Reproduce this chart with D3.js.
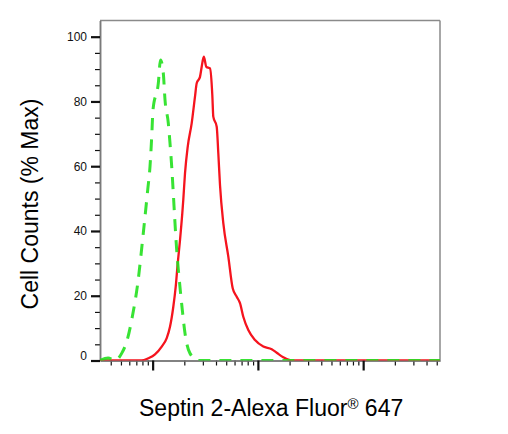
<!DOCTYPE html>
<html><head><meta charset="utf-8">
<script src="https://cdn.jsdelivr.net/npm/d3@7"></script>
<style>body{margin:0;background:#fff}svg{display:block}</style>
</head><body>
<svg id="c" width="508" height="434"></svg>
<script>
// Isotype control (green dashed)
const greenX = [3.16, 3.77, 4.39, 5.08, 5.67, 6.41, 7.22, 8.15, 8.98, 9.44, 9.80, 10.08, 11.32, 11.88, 12.63, 13.11, 14.09, 14.62, 15.18, 15.72, 16.31, 16.93, 17.80, 19.14, 20.30, 22.65, 27.16, 100, 1000, 5370];
const greenY = [0, 0.8, 0, 2.2, 5.8, 13.5, 23.8, 39.3, 52.7, 59.9, 69.1, 77.4, 85.6, 92.8, 88.7, 80.5, 73.3, 67.1, 59.9, 51.6, 42.4, 34.1, 25.9, 15.6, 8.4, 2.2, 0, 0, 0, 0];
// Septin 2 (red solid)
const redX = [3.16, 7.87, 9.10, 10.53, 12.20, 13.61, 14.62, 15.72, 16.57, 17.31, 18.20, 19.14, 19.56, 20.30, 21.54, 23.51, 25.26, 26.22, 28.18, 29.25, 30.63, 32.36, 35.08, 36.89, 37.70, 40.62, 42.07, 43.65, 46.93, 52.36, 57.64, 62.90, 67.61, 72.66, 81.07, 93.86, 112.6, 135.3, 150.9, 174.3, 209.5, 1000, 5370];
const redY = [0, 0, 0.7, 1.9, 4.3, 6.9, 10.4, 16.6, 22.8, 30.0, 37.2, 45.5, 49.7, 57.8, 66.0, 73.3, 81.5, 85.6, 87.6, 90.7, 93.8, 90.7, 90.2, 82.0, 75.3, 72.2, 64.0, 54.2, 42.4, 32.1, 22.3, 19.7, 17.7, 13.5, 9.4, 6.3, 4.3, 3.5, 2.4, 1.0, 0, 0, 0];

const yMajorTicks = [0, 20, 40, 60, 80, 100];
const yMinorTicks = [5, 10, 15, 25, 30, 35, 45, 50, 55, 65, 70, 75, 85, 90, 95];
const xMajorTicks = [10, 100, 1000];
const xMinorTicks = [4, 5, 6, 7, 8, 9, 20, 30, 40, 50, 60, 70, 80, 90, 200, 300, 400, 500, 600, 700, 800, 900, 2000, 3000, 4000, 5000];
const yTitle = "Cell Counts (% Max)";
const xTitleMain = "Septin 2-Alexa Fluor";
const xTitleSup = "®";
const xTitleEnd = " 647";

const L = 100, R = 440, T = 20.5, B = 360.5;
const svg = d3.select("#c");
const x = d3.scaleLog().domain([Math.pow(10, 0.5), Math.pow(10, 3.73)]).range([L, R]);
const y = d3.scaleLinear().domain([0, 105]).range([B, T]);

svg.append("defs").append("clipPath").attr("id", "clip")
  .append("rect").attr("x", L).attr("y", T - 5).attr("width", R - L).attr("height", B - T + 5);

// frame top/right
svg.append("line").attr("x1", L).attr("x2", R).attr("y1", T).attr("y2", T).attr("stroke", "#8a8a8a").attr("stroke-width", 1.5);
svg.append("line").attr("x1", R).attr("x2", R).attr("y1", T).attr("y2", B).attr("stroke", "#8a8a8a").attr("stroke-width", 1.5);

// axes
function styleAxis(g, w) {
  g.select(".domain").attr("stroke", "#7a7a7a").attr("stroke-width", 1.5);
  g.selectAll(".tick line").attr("stroke", "#111").attr("stroke-width", w);
}
const gxMinor = svg.append("g").attr("transform", `translate(0,${B})`)
  .call(d3.axisBottom(x).tickValues(xMinorTicks).tickSize(5).tickSizeOuter(0).tickFormat(""));
styleAxis(gxMinor, 1.2);
const gxMajor = svg.append("g").attr("transform", `translate(0,${B})`)
  .call(d3.axisBottom(x).tickValues(xMajorTicks).tickSize(10).tickSizeOuter(0).tickFormat(""));
styleAxis(gxMajor, 2.2);

const gyMinor = svg.append("g").attr("transform", `translate(${L},0)`)
  .call(d3.axisLeft(y).tickValues(yMinorTicks).tickSize(5).tickSizeOuter(0).tickFormat(""));
styleAxis(gyMinor, 1.2);
const gyMajor = svg.append("g").attr("transform", `translate(${L},0)`)
  .call(d3.axisLeft(y).tickValues(yMajorTicks).tickSize(9).tickSizeOuter(0).tickPadding(4));
styleAxis(gyMajor, 2.2);
gyMajor.selectAll(".tick text")
  .attr("font-family", "Arial, 'Liberation Sans', sans-serif")
  .attr("font-size", 12).attr("fill", "#111")
  .attr("dy", d => d === 0 ? "-0.1em" : "0.32em");

// curves
const line = d3.line().x(d => x(d[0])).y(d => y(d[1])).curve(d3.curveMonotoneX);
const plot = svg.append("g").attr("clip-path", "url(#clip)");
plot.append("path").datum(redX.map((v, i) => [v, redY[i]]))
  .attr("d", line).attr("fill", "none").attr("stroke", "#f5141e").attr("stroke-width", 2.3).attr("stroke-linejoin", "round");
plot.append("path").datum(greenX.map((v, i) => [v, greenY[i]]))
  .attr("d", line).attr("fill", "none").attr("stroke", "#22e01e").attr("stroke-width", 3)
  .attr("stroke-dasharray", "12,9").attr("opacity", 0.9);

// titles
svg.append("text").attr("transform", "translate(38,204) rotate(-90)")
  .attr("text-anchor", "middle").attr("font-family", "Arial, 'Liberation Sans', sans-serif")
  .attr("font-size", 23).attr("fill", "#000").text(yTitle);

const xt = svg.append("text").attr("x", 139).attr("y", 416)
  .attr("font-family", "Arial, 'Liberation Sans', sans-serif").attr("font-size", 23).attr("fill", "#000");
xt.append("tspan").text(xTitleMain);
xt.append("tspan").attr("font-size", 15).attr("dy", -7).text(xTitleSup);
xt.append("tspan").attr("dy", 7).text(xTitleEnd);
</script>
</body></html>
